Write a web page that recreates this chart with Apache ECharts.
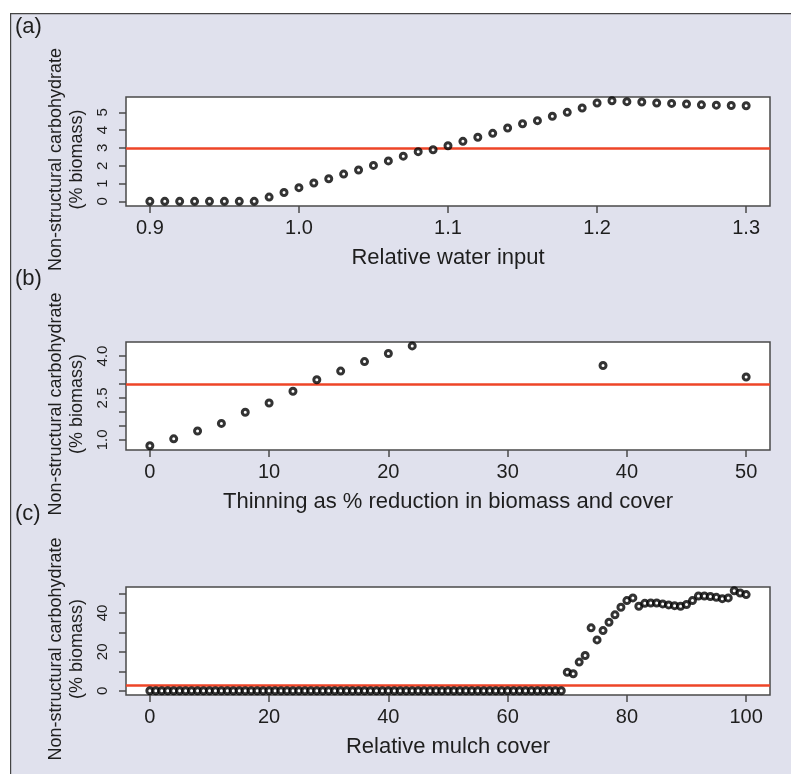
<!DOCTYPE html>
<html>
<head>
<meta charset="utf-8">
<script src="https://cdn.jsdelivr.net/npm/echarts@6/dist/echarts.min.js"></script>
<style>
  html, body { margin: 0; padding: 0; background: #fff; }
  #chart { width: 791px; height: 774px; }
</style>
</head>
<body>
<div id="chart"></div>
<script>
// (a) 相对水分输入
const waterInput = [0.90, 0.91, 0.92, 0.93, 0.94, 0.95, 0.96, 0.97, 0.98, 0.99,
  1.00, 1.01, 1.02, 1.03, 1.04, 1.05, 1.06, 1.07, 1.08, 1.09,
  1.10, 1.11, 1.12, 1.13, 1.14, 1.15, 1.16, 1.17, 1.18, 1.19,
  1.20, 1.21, 1.22, 1.23, 1.24, 1.25, 1.26, 1.27, 1.28, 1.29, 1.30]
const waterNSC = [0, 0, 0, 0, 0, 0, 0, 0, 0.24, 0.5,
  0.77, 1.03, 1.27, 1.53, 1.76, 2.02, 2.27, 2.54, 2.79, 2.9,
  3.12, 3.37, 3.6, 3.82, 4.12, 4.36, 4.53, 4.78, 5.0, 5.24,
  5.52, 5.65, 5.6, 5.58, 5.52, 5.5, 5.47, 5.42, 5.4, 5.38, 5.37]
const waterTicks = [0.9, 1.0, 1.1, 1.2, 1.3]
const waterYTicks = [0, 1, 2, 3, 4, 5]

// (b) 间伐
const thinning = [0, 2, 4, 6, 8, 10, 12, 14, 16, 18, 20, 22, 38, 50]
const thinNSC = [0.79, 1.04, 1.32, 1.59, 1.99, 2.32, 2.74, 3.15, 3.46, 3.8, 4.09, 4.36, 3.66, 3.25]
const thinTicks = [0, 10, 20, 30, 40, 50]
const thinYTicks = [1.0, 1.5, 2.0, 2.5, 3.0, 3.5, 4.0]
const thinYLabels = [1.0, 2.5, 4.0]

// (c) 覆盖物
const mulchCover = [0, 1, 2, 3, 4, 5, 6, 7, 8, 9,
  10, 11, 12, 13, 14, 15, 16, 17, 18, 19,
  20, 21, 22, 23, 24, 25, 26, 27, 28, 29,
  30, 31, 32, 33, 34, 35, 36, 37, 38, 39,
  40, 41, 42, 43, 44, 45, 46, 47, 48, 49,
  50, 51, 52, 53, 54, 55, 56, 57, 58, 59,
  60, 61, 62, 63, 64, 65, 66, 67, 68, 69,
  70, 71, 72, 73, 74, 75, 76, 77, 78, 79,
  80, 81, 82, 83, 84, 85, 86, 87, 88, 89,
  90, 91, 92, 93, 94, 95, 96, 97, 98, 99, 100]
const mulchNSC = [0, 0, 0, 0, 0, 0, 0, 0, 0, 0,
  0, 0, 0, 0, 0, 0, 0, 0, 0, 0,
  0, 0, 0, 0, 0, 0, 0, 0, 0, 0,
  0, 0, 0, 0, 0, 0, 0, 0, 0, 0,
  0, 0, 0, 0, 0, 0, 0, 0, 0, 0,
  0, 0, 0, 0, 0, 0, 0, 0, 0, 0,
  0, 0, 0, 0, 0, 0, 0, 0, 0, 0,
  9.5, 8.7, 14.7, 18.1, 32.3, 26.1, 30.9, 35.2, 39.0, 42.9,
  46.3, 47.7, 43.4, 44.9, 45.1, 45.1, 44.6, 44.1, 43.7, 43.4,
  44.3, 46.3, 48.7, 48.7, 48.4, 48.0, 47.3, 47.7, 51.4, 50.2, 49.4]
const mulchTicks = [0, 20, 40, 60, 80, 100]
const mulchYTicks = [0, 10, 20, 30, 40, 50]
const mulchYLabels = [0, 20, 40]

const threshold = 3

const font = 'Liberation Sans, Arial, Helvetica, sans-serif'
const dark = '#1e1e1e'
const boxColor = '#4a4a4a'

function pairs(xs, ys) {
  return xs.map((x, i) => [x, ys[i]])
}

const grids = [
  { left: 126, top: 97, width: 644, height: 109 },
  { left: 126, top: 342, width: 644, height: 108 },
  { left: 126, top: 587, width: 644, height: 108 }
]

function xAxis(idx, min, max, ticks, name, fmt) {
  return {
    type: 'value',
    gridIndex: idx,
    min: min,
    max: max,
    name: name,
    nameLocation: 'middle',
    nameGap: 41,
    nameTextStyle: { fontFamily: font, fontSize: 22, color: dark },
    axisLine: { show: false, onZero: false },
    axisTick: { show: true, length: 7, customValues: ticks, lineStyle: { color: boxColor, width: 1.5 } },
    axisLabel: { customValues: ticks, margin: 12, fontFamily: font, fontSize: 20, color: dark, formatter: fmt },
    splitLine: { show: false }
  }
}

function yAxis(idx, min, max, ticks, labels, fmt) {
  return {
    type: 'value',
    gridIndex: idx,
    min: min,
    max: max,
    name: 'Non-structural carbohydrate\n(% biomass)',
    nameLocation: 'middle',
    nameRotate: 90,
    nameGap: 36,
    // 右侧留白 让标题整体往下挪一点
    nameTextStyle: { fontFamily: font, fontSize: 18, color: dark, lineHeight: 21, align: 'center', padding: [0, 16, 0, 0] },
    axisLine: { show: false, onZero: false },
    axisTick: { show: true, length: 7, customValues: ticks, lineStyle: { color: boxColor, width: 1.5 } },
    axisLabel: { customValues: labels, rotate: 90, margin: 16, fontFamily: font, fontSize: 15, color: dark, formatter: fmt },
    splitLine: { show: false }
  }
}

function dots(idx, data) {
  return {
    type: 'scatter',
    xAxisIndex: idx,
    yAxisIndex: idx,
    data: data,
    symbol: 'circle',
    symbolSize: 6,
    itemStyle: { color: '#fff', borderColor: '#000', borderWidth: 3 },
    z: 3,
    markLine: {
      silent: true,
      symbol: 'none',
      label: { show: false },
      lineStyle: { color: '#ee4527', width: 2.5, type: 'solid', opacity: 1 },
      data: [{ yAxis: threshold }],
      z: 2
    }
  }
}

let myChart = echarts.init(document.getElementById('chart'))
let option = {
  animation: false,
  backgroundColor: '#fff',
  graphic: [
    {
      type: 'rect',
      left: 10, top: 13,
      shape: { width: 800, height: 800 },
      style: { fill: '#e0e1ed', stroke: '#444', lineWidth: 1.2 },
      z: -10
    },
    { type: 'text', left: 15, top: 16, style: { text: '(a)', fontFamily: font, fontSize: 22, fill: dark } },
    { type: 'text', left: 15, top: 268, style: { text: '(b)', fontFamily: font, fontSize: 22, fill: dark } },
    { type: 'text', left: 15, top: 503, style: { text: '(c)', fontFamily: font, fontSize: 22, fill: dark } }
  ],
  grid: grids.map(g => Object.assign({
    show: true, backgroundColor: '#fff', borderColor: boxColor, borderWidth: 1.5, containLabel: false
  }, g)),
  xAxis: [
    xAxis(0, 0.884, 1.316, waterTicks, 'Relative water input', v => v.toFixed(1)),
    xAxis(1, -2, 52, thinTicks, 'Thinning as % reduction in biomass and cover', v => String(v)),
    xAxis(2, -4, 104, mulchTicks, 'Relative mulch cover', v => String(v))
  ],
  yAxis: [
    yAxis(0, -0.26, 5.86, waterYTicks, waterYTicks, v => String(v)),
    yAxis(1, 0.64, 4.5, thinYTicks, thinYLabels, v => v.toFixed(1)),
    yAxis(2, -2.2, 53.3, mulchYTicks, mulchYLabels, v => String(v))
  ],
  series: [
    dots(0, pairs(waterInput, waterNSC)),
    dots(1, pairs(thinning, thinNSC)),
    dots(2, pairs(mulchCover, mulchNSC))
  ]
}
myChart.setOption(option)
</script>
</body>
</html>
